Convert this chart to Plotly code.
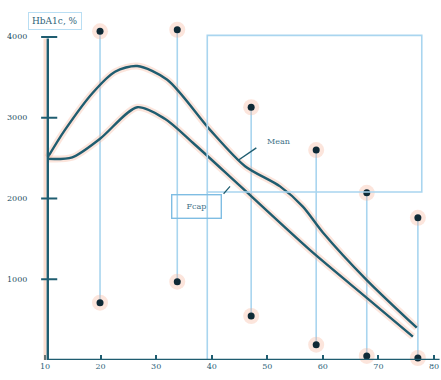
import plotly.graph_objects as go

# ---- data ----
mean_x = [10.5, 13.5, 18.6, 22.6, 26.6, 32.0, 39.7, 46.0, 52.3, 56.4, 60.0, 67.9, 76.9]
mean_y = [2510, 2840, 3310, 3570, 3640, 3470, 2850, 2400, 2150, 1900, 1580, 990, 400]

fcap_x = [10.5, 14.9, 19.9, 26.6, 31.5, 36.6, 45.1, 57.7, 67.9, 76.2]
fcap_y = [2490, 2510, 2740, 3130, 2990, 2690, 2155, 1360, 770, 290]

pt_x = [19.9, 33.8, 47.1, 58.8, 67.9, 77.1]
pt_high = [4070, 4090, 3130, 2600, 2070, 1760]
pt_low = [710, 970, 545, 190, 50, 25]

x_ticks = [10, 20, 30, 40, 50, 60, 70, 80]
y_ticks = [1000, 2000, 3000, 4000]
title_text = "HbA1c, %"
label_mean = "Mean"
label_fcap = "Fcap"

# ---- styling ----
TEAL = "#1f5d70"
DARK = "#0f2a36"
LBLUE = "#a9d5ef"
HALO = "rgba(245,170,140,0.30)"

fig = go.Figure()

# droplines connecting high/low points
dx, dy = [], []
for x, hi, lo in zip(pt_x, pt_high, pt_low):
    dx += [x, x, None]
    dy += [lo, hi, None]
fig.add_trace(go.Scatter(x=dx, y=dy, mode="lines",
                         line=dict(color=LBLUE, width=1.6), hoverinfo="skip"))

# curves with soft halo
for xs, ys in [(mean_x, mean_y), (fcap_x, fcap_y)]:
    fig.add_trace(go.Scatter(x=xs, y=ys, mode="lines",
                             line=dict(color=HALO, width=7, shape="spline", smoothing=0.8),
                             hoverinfo="skip"))
    fig.add_trace(go.Scatter(x=xs, y=ys, mode="lines",
                             line=dict(color=TEAL, width=2.4, shape="spline", smoothing=0.8)))

# points with halo
allx = pt_x + pt_x
ally = pt_high + pt_low
fig.add_trace(go.Scatter(x=allx, y=ally, mode="markers",
                         marker=dict(size=16, color=HALO), hoverinfo="skip", cliponaxis=False))
fig.add_trace(go.Scatter(x=allx, y=ally, mode="markers",
                         marker=dict(size=7, color=DARK), cliponaxis=False))

shapes = []
# light blue rectangle (with left edge running down to the axis)
shapes.append(dict(type="rect", xref="x", yref="y", x0=39.2, x1=77.8, y0=2080, y1=4020,
                   line=dict(color=LBLUE, width=1.6)))
shapes.append(dict(type="line", xref="x", yref="y", x0=39.2, x1=39.2, y0=0, y1=2080,
                   line=dict(color=LBLUE, width=1.6)))
# axis shadow lines (pale orange)
shapes.append(dict(type="line", xref="x", yref="y", x0=10.2, x1=81, y0=-40, y1=-40,
                   line=dict(color="rgba(245,160,120,0.45)", width=3)))
shapes.append(dict(type="line", xref="x", yref="y", x0=10.0, x1=10.0, y0=0, y1=3980,
                   line=dict(color="rgba(245,160,120,0.35)", width=3)))
# axis lines
shapes.append(dict(type="line", xref="x", yref="y", x0=10.5, x1=10.5, y0=0, y1=3980,
                   line=dict(color=TEAL, width=2.4)))
shapes.append(dict(type="line", xref="x", yref="y", x0=10.5, x1=81, y0=0, y1=0,
                   line=dict(color=TEAL, width=2.4)))

annotations = [
    dict(x=44.7, y=2470, xref="x", yref="y", ax=48.3, ay=2640, axref="x", ayref="y",
         text="", showarrow=True, arrowhead=0, arrowwidth=1.4, arrowcolor=TEAL),
    dict(x=49.6, y=2700, xref="x", yref="y", text=label_mean, showarrow=False, xanchor="left",
         font=dict(size=8, color="#3b6f86", family="DejaVu Serif")),
    dict(x=43.3, y=2150, xref="x", yref="y", ax=41.9, ay=2040, axref="x", ayref="y",
         text="", showarrow=True, arrowhead=0, arrowwidth=1.2, arrowcolor=TEAL),
    dict(x=37.3, y=1900, xref="x", yref="y", text=label_fcap, showarrow=False,
         font=dict(size=8, color="#3b6f86", family="DejaVu Serif"),
         bordercolor="#7fbde3", borderwidth=1.4, borderpad=5, width=38, height=12),
    dict(x=0.064, y=0.966, xref="paper", yref="paper", text=title_text, showarrow=False,
         xanchor="left", font=dict(size=9, color="#2d5f78", family="DejaVu Serif"),
         bordercolor="#b9def3", borderwidth=1, borderpad=3),
]

fig.update_layout(
    width=441, height=380,
    margin=dict(l=0, r=0, t=0, b=20),
    paper_bgcolor="white", plot_bgcolor="white",
    showlegend=False,
    shapes=shapes, annotations=annotations,
    xaxis=dict(range=[1.9, 81.26], tickvals=x_ticks, ticktext=[str(v) for v in x_ticks],
               showgrid=False, zeroline=False, showline=False,
               ticks="inside", ticklen=5, tickcolor=TEAL, tickwidth=2,
               tickfont=dict(size=8, color="#2d5f78", family="DejaVu Serif")),
    yaxis=dict(range=[0, 4458], showgrid=False, zeroline=False, showline=False,
               tickvals=y_ticks, showticklabels=False),
)

# y tick labels & tick marks at the axis values
for v in y_ticks:
    fig.add_annotation(x=4.9, y=v, xref="x", yref="y", text=str(v), showarrow=False,
                       font=dict(size=8, color="#1f4f63", family="DejaVu Serif"))
    fig.add_shape(type="line", xref="x", yref="y", x0=9.3, x1=12.2, y0=v, y1=v,
                  line=dict(color=TEAL, width=2))

fig.write_html("out.html")
